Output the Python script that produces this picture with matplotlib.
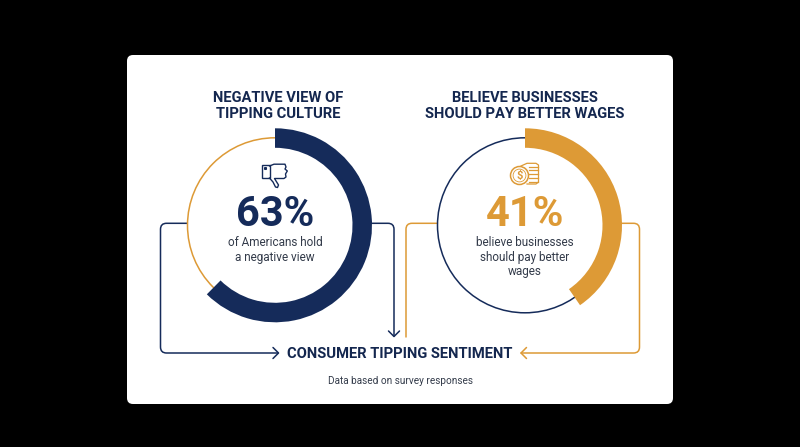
import matplotlib
matplotlib.use("Agg")
import matplotlib.pyplot as plt
from matplotlib.patches import Wedge, Circle, FancyBboxPatch, PathPatch, Rectangle
from matplotlib.path import Path

plt.rcParams['font.family'] = ['Roboto', 'DejaVu Sans']

NAVY = "#152b5a"
ORANGE = "#dd9a36"
BODY = "#333b4a"

percents = [62.4, 40.4]
percent_labels = ["63%", "41%"]
titles = ["NEGATIVE VIEW OF\nTIPPING CULTURE", "BELIEVE BUSINESSES\nSHOULD PAY BETTER WAGES"]
captions = [["of Americans hold", "a negative view"],
            ["believe businesses", "should pay better", "wages"]]
band_colors = [NAVY, ORANGE]
thin_colors = [ORANGE, NAVY]
centers_x = [275, 525]
title_x = [278, 525]
center_y = 225.3

fig = plt.figure(figsize=(8, 4.47), dpi=100, facecolor="black")
ax = fig.add_axes([0, 0, 1, 1])
ax.set_xlim(0, 800)
ax.set_ylim(447, 0)
ax.axis("off")

# white card
ax.add_patch(FancyBboxPatch((127, 55), 546, 349, boxstyle="round,pad=0,rounding_size=6",
                            mutation_aspect=1, fc="white", ec="none"))


def connector(points, color, lw=1.1, radius=6):
    # polyline with rounded corners
    verts = [points[0]]
    codes = [Path.MOVETO]
    for i in range(1, len(points) - 1):
        x0, y0 = points[i - 1]
        x1, y1 = points[i]
        x2, y2 = points[i + 1]
        sx = (x0 > x1) - (x0 < x1)
        sy = (y0 > y1) - (y0 < y1)
        ex = (x2 > x1) - (x2 < x1)
        ey = (y2 > y1) - (y2 < y1)
        verts += [(x1 + sx * radius, y1 + sy * radius), (x1, y1), (x1 + ex * radius, y1 + ey * radius)]
        codes += [Path.LINETO, Path.CURVE3, Path.CURVE3]
    verts.append(points[-1])
    codes.append(Path.LINETO)
    ax.add_patch(PathPatch(Path(verts, codes), fc="none", ec=color, lw=lw, capstyle="round"))


def arrow_head(x, y, dx, dy, color, size=5.5):
    # open chevron with its tip on (x, y), pointing along (dx, dy)
    px, py = -dy, dx
    ax.plot([x - dx * size + px * size, x, x - dx * size - px * size],
            [y - dy * size + py * size, y, y - dy * size - py * size],
            color=color, lw=1.1, solid_capstyle="round", solid_joinstyle="round")


connector([(188, 223.3), (160.5, 223.3), (160.5, 353), (278, 353)], NAVY)
arrow_head(278.5, 353, 1, 0, NAVY)
connector([(371, 223.3), (394, 223.3), (394, 336)], NAVY)
arrow_head(394, 336.5, 0, 1, NAVY)
connector([(437, 223.3), (406, 223.3), (406, 337)], ORANGE)
connector([(621, 223.3), (639.5, 223.3), (639.5, 353), (521, 353)], ORANGE)
arrow_head(521, 353, -1, 0, ORANGE)

for i, pct in enumerate(percents):
    cx = centers_x[i]
    ax.add_patch(Circle((cx, center_y), 87.5, fc="white", ec=thin_colors[i], lw=1.1))
    ax.add_patch(Wedge((cx, center_y), 97, -90, -90 + 360 * pct / 100, width=19.5,
                       fc=band_colors[i], ec="none"))
    ax.text(title_x[i], 106, titles[i], ha="center", va="center", fontsize=10.6, fontweight="bold",
            color="#14274f", linespacing=1.22)
    ax.text(cx, 215, percent_labels[i], ha="center", va="center", fontsize=30,
            fontweight="bold", color=band_colors[i])
    for j, line in enumerate(captions[i]):
        ax.text(cx, 243 + j * 14.3, line, ha="center", va="center", fontsize=8.5, color=BODY)

# thumbs down icon
ax.add_patch(Rectangle((262, 164.5), 7.5, 13.5, fc="white", ec=NAVY, lw=1.0))
ax.plot([269.5, 274, 285, 286, 285, 287.3, 285.5, 286, 284, 274.5, 278.5, 277.5, 275.5, 273, 269.5],
        [166, 164.2, 164.2, 167, 169, 171, 174, 177, 178.5, 178.5, 185, 187.5, 187, 182, 178],
        color=NAVY, lw=1.0, solid_joinstyle="round")
ax.plot([265], [168], marker="s", ms=1.2, color=NAVY)

# coins icon
for k in range(5):
    ax.plot([529, 538], [166.5 + k * 3.9, 166.5 + k * 3.9], color=ORANGE, lw=0.9)
ax.plot([521, 527, 536, 538.5, 538.5, 536, 527], [166, 163.3, 163.3, 165, 182, 184, 184],
        color=ORANGE, lw=0.9, solid_joinstyle="round")
ax.add_patch(Circle((519.5, 175.5), 9, fc="white", ec=ORANGE, lw=1.1))
ax.add_patch(Circle((519.5, 175.5), 6.4, fc="none", ec=ORANGE, lw=0.6))
ax.text(519.5, 175.8, "$", ha="center", va="center", fontsize=8, fontweight="bold", color=ORANGE)

ax.text(400, 353.5, "CONSUMER TIPPING SENTIMENT", ha="center", va="center", fontsize=10.6,
        fontweight="bold", color="#14274f")
ax.text(400, 381, "Data based on survey responses", ha="center", va="center", fontsize=7.2, color=BODY)

fig.savefig("out.png", dpi=100, facecolor="black")
